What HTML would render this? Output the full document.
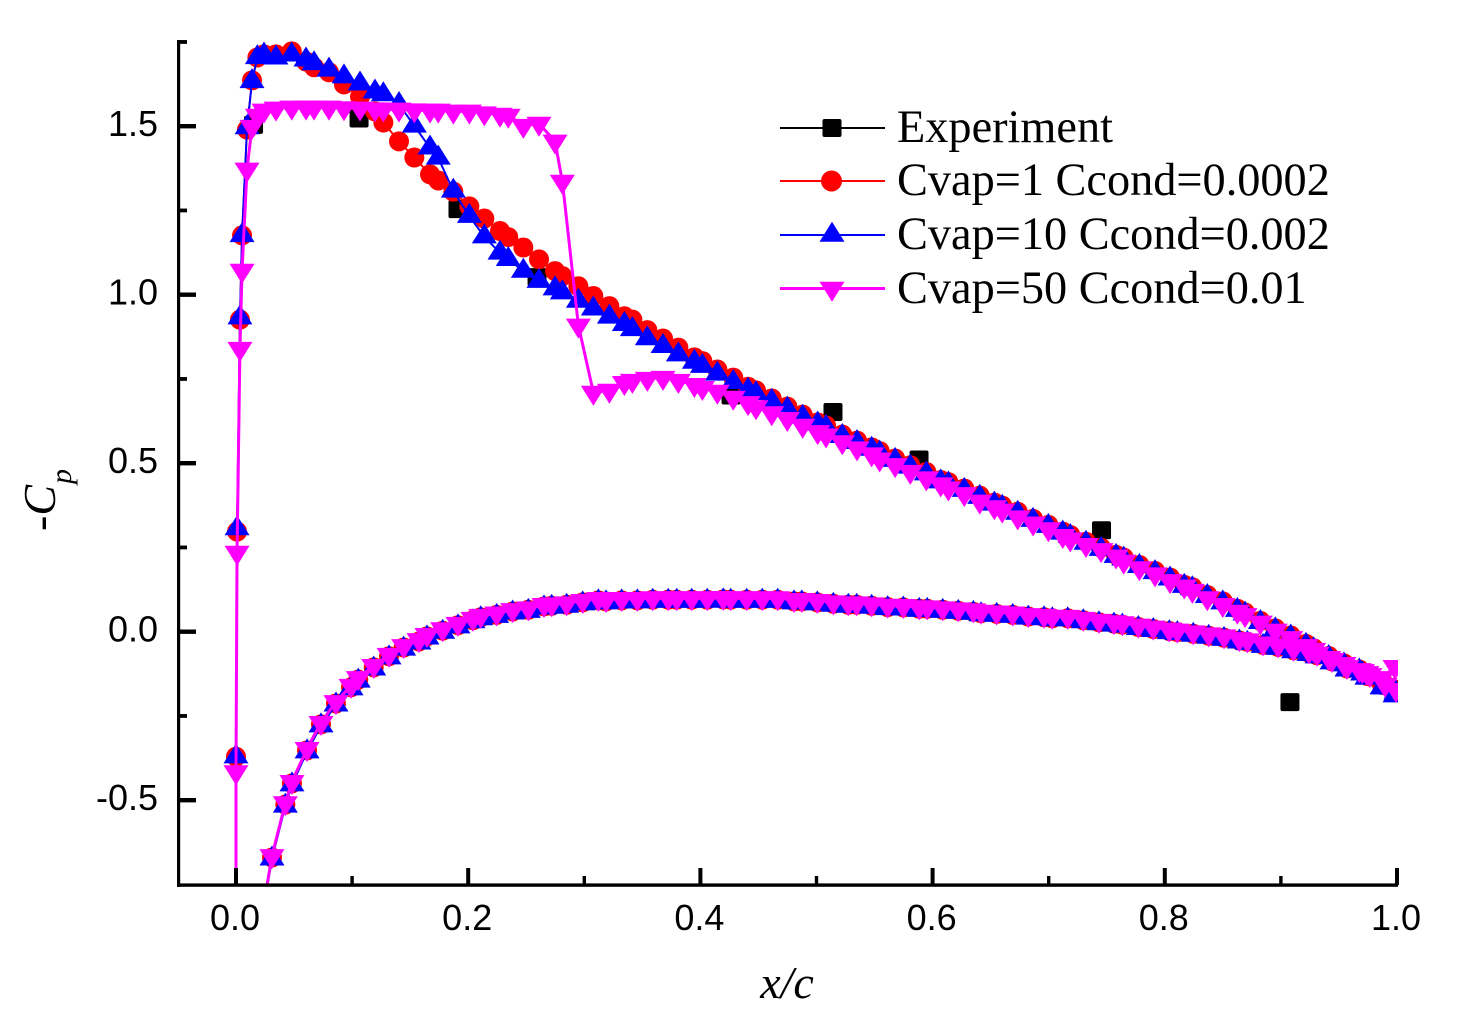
<!DOCTYPE html>
<html lang="en">
<head>
<meta charset="utf-8">
<title>Pressure coefficient along chord</title>
<style>
html,body{margin:0;padding:0;background:#fff;width:1460px;height:1036px;overflow:hidden}
svg{display:block}
.tick{font-family:"Liberation Sans",Arial,sans-serif;font-size:36px;fill:#000}
.leg{font-family:"Liberation Serif","Times New Roman",serif;font-size:46.3px;fill:#000}
.ax{font-family:"Liberation Serif","Times New Roman",serif;font-size:46px;font-style:italic;fill:#000}
</style>
</head>
<body>
<svg id="chart" xmlns="http://www.w3.org/2000/svg" width="1460" height="1036" viewBox="0 0 1460 1036">
  <defs><clipPath id="plotClip"><rect x="176" y="38" width="1222" height="848"></rect></clipPath></defs>
  <rect x="0" y="0" width="1460" height="1036" fill="#fff"></rect>
  <g id="series" clip-path="url(#plotClip)"></g>
  <g id="axes"></g>
  <text class="ax" x="787" y="998" text-anchor="middle">x/c</text>
  <text class="ax" transform="translate(55,531) rotate(-90)"><tspan font-style="normal">-</tspan>C<tspan font-size="30" dy="16" dx="1">p</tspan></text>
  <g id="legend">
    <g>
      <line x1="780" x2="885" y1="128" y2="128" stroke="#000" stroke-width="2"></line>
      <rect x="822.5" y="119" width="19" height="18" rx="2" fill="#000"></rect>
      <text class="leg" x="897" y="142">Experiment</text>
    </g>
    <g>
      <line x1="780" x2="885" y1="181" y2="181" stroke="#f00" stroke-width="2"></line>
      <circle cx="831.5" cy="181" r="10.5" fill="#f00"></circle>
      <text class="leg" x="897" y="195">Cvap=1 Ccond=0.0002</text>
    </g>
    <g>
      <line x1="780" x2="885" y1="235" y2="235" stroke="#00f" stroke-width="2"></line>
      <polygon points="832,221.7 844.5,241.7 819.5,241.7" fill="#00f"></polygon>
      <text class="leg" x="897" y="249">Cvap=10 Ccond=0.002</text>
    </g>
    <g>
      <line x1="780" x2="885" y1="288.5" y2="288.5" stroke="#f0f" stroke-width="3"></line>
      <polygon points="819.5,281.7 844.5,281.7 832,301.7" fill="#f0f"></polygon>
      <text class="leg" x="897" y="303">Cvap=50 Ccond=0.01</text>
    </g>
  </g>
</svg>
<script>
// Axis tick values
const xMajorTicks = [0.0, 0.2, 0.4, 0.6, 0.8, 1.0];
const xMinorTicks = [0.1, 0.3, 0.5, 0.7, 0.9];
const xTickLabels = ["0.0", "0.2", "0.4", "0.6", "0.8", "1.0"];
const yMajorTicks = [-0.5, 0.0, 0.5, 1.0, 1.5];
const yMinorTicks = [-0.25, 0.25, 0.75, 1.25, 1.75];
const yTickLabels = ["-0.5", "0.0", "0.5", "1.0", "1.5"];

// Experiment
const expX = [0.0151, 0.1060, 0.1912, 0.2593, 0.4264, 0.5142, 0.5883, 0.7455, 0.9078];
const expCp = [1.504, 1.523, 1.254, 1.052, 0.701, 0.652, 0.511, 0.301, -0.209];

// Suction-side chord positions
const xUpper = [
0.0000,
0.0000,0.0009,0.0034,0.0052,0.0095,0.0138,0.0184,0.0241,0.0344,0.0480,
0.0603,0.0672,0.0801,0.0930,0.1068,0.1197,0.1269,0.1404,0.1536,0.1671,
0.1742,0.1872,0.2010,0.2139,0.2274,0.2345,0.2475,0.2610,0.2748,0.2811,
0.2949,0.3078,0.3216,0.3345,0.3414,0.3543,0.3678,0.3810,0.3948,0.4017,
0.4146,0.4283,0.4410,0.4479,0.4614,0.4749,0.4881,0.5010,0.5082,0.5222,
0.5349,0.5475,0.5544,0.5677,0.5808,0.5946,0.6070,0.6136,0.6273,0.6406,
0.6532,0.6600,0.6733,0.6865,0.6997,0.7121,0.7186,0.7321,0.7451,0.7580,
0.7646,0.7781,0.7916,0.8045,0.8168,0.8237,0.8366,0.8499,0.8625,0.8691,
0.8823,0.8952,0.9084,0.9216,0.9282,0.9412,0.9543,0.9675,0.9741,0.9871,
0.9983];

// Pressure-side chord positions
const xLower = [
0.0224,0.0310,0.0425,0.0482,0.0612,0.0732,0.0861,0.0991,0.1053,0.1186,
0.1318,0.1444,0.1576,0.1645,0.1780,0.1912,0.2041,0.2108,0.2245,0.2383,
0.2518,0.2653,0.2719,0.2848,0.2986,0.3121,0.3187,0.3322,0.3457,0.3589,
0.3723,0.3796,0.3925,0.4059,0.4197,0.4261,0.4399,0.4533,0.4666,0.4806,
0.4873,0.5007,0.5145,0.5274,0.5346,0.5475,0.5613,0.5748,0.5885,0.5954,
0.6087,0.6221,0.6351,0.6417,0.6552,0.6690,0.6824,0.6960,0.7031,0.7164,
0.7298,0.7433,0.7562,0.7634,0.7772,0.7901,0.8039,0.8108,0.8245,0.8378,
0.8510,0.8642,0.8711,0.8846,0.8975,0.9109,0.9242,0.9311,0.9440,0.9569,
0.9703,0.9767,0.9897,0.9991];

// Cvap=1 Ccond=0.0002
const redUpper = [
-1.200,
-0.371,0.297,0.926,1.176,1.490,1.636,1.704,1.713,1.713,1.722,
1.692,1.675,1.660,1.624,1.588,1.544,1.511,1.455,1.407,1.357,
1.339,1.306,1.262,1.226,1.189,1.171,1.140,1.105,1.070,1.055,
1.025,0.996,0.966,0.936,0.926,0.895,0.870,0.843,0.814,0.803,
0.778,0.754,0.727,0.716,0.692,0.668,0.644,0.621,0.612,0.585,
0.567,0.547,0.536,0.514,0.494,0.474,0.450,0.444,0.425,0.404,
0.383,0.374,0.356,0.335,0.317,0.297,0.287,0.267,0.249,0.228,
0.220,0.198,0.180,0.161,0.139,0.132,0.109,0.090,0.068,0.057,
0.032,0.010,-0.011,-0.036,-0.049,-0.072,-0.094,-0.112,-0.131,-0.158,
-0.178];
const redLower = [
-0.845,-0.670,-0.513,-0.450,-0.352,-0.275,-0.213,-0.165,-0.142,-0.106,
-0.073,-0.047,-0.029,-0.014,0.003,0.019,0.034,0.043,0.050,0.060,
0.065,0.075,0.077,0.080,0.087,0.093,0.090,0.093,0.093,0.095,
0.095,0.095,0.095,0.095,0.096,0.095,0.095,0.095,0.095,0.090,
0.090,0.087,0.083,0.080,0.080,0.077,0.073,0.072,0.068,0.068,
0.065,0.062,0.059,0.055,0.053,0.050,0.045,0.043,0.040,0.040,
0.034,0.028,0.024,0.021,0.014,0.008,0.002,-0.001,-0.006,-0.012,
-0.018,-0.026,-0.030,-0.039,-0.045,-0.055,-0.063,-0.070,-0.088,-0.109,
-0.121,-0.133,-0.158,-0.172];

// Cvap=10 Ccond=0.002
const blueUpper = [
-1.200,
-0.371,0.306,0.932,1.176,1.496,1.633,1.704,1.712,1.703,1.712,
1.697,1.686,1.667,1.647,1.626,1.602,1.594,1.565,1.501,1.436,
1.406,1.308,1.233,1.172,1.124,1.105,1.070,1.040,1.018,1.006,
0.981,0.958,0.934,0.912,0.897,0.870,0.847,0.822,0.800,0.788,
0.765,0.740,0.717,0.707,0.684,0.661,0.637,0.617,0.607,0.580,
0.562,0.542,0.531,0.509,0.489,0.469,0.445,0.439,0.420,0.399,
0.379,0.370,0.352,0.331,0.313,0.293,0.283,0.263,0.245,0.224,
0.216,0.194,0.176,0.157,0.135,0.128,0.105,0.086,0.064,0.053,
0.028,0.006,-0.015,-0.040,-0.053,-0.076,-0.098,-0.116,-0.137,-0.166,
-0.190];
const blueLower = [
-0.849,-0.674,-0.517,-0.454,-0.356,-0.279,-0.217,-0.169,-0.146,-0.110,
-0.077,-0.051,-0.033,-0.018,-0.001,0.015,0.030,0.039,0.046,0.056,
0.061,0.071,0.073,0.076,0.083,0.089,0.086,0.089,0.089,0.091,
0.091,0.091,0.091,0.091,0.092,0.091,0.091,0.091,0.091,0.086,
0.086,0.083,0.079,0.076,0.076,0.073,0.069,0.068,0.064,0.064,
0.061,0.058,0.055,0.051,0.049,0.046,0.041,0.039,0.036,0.036,
0.030,0.024,0.020,0.017,0.010,0.004,-0.002,-0.005,-0.010,-0.016,
-0.022,-0.030,-0.034,-0.043,-0.049,-0.059,-0.067,-0.074,-0.092,-0.113,
-0.125,-0.137,-0.166,-0.181];

// Cvap=50 Ccond=0.01
const magentaUpper = [
-1.200,
-0.416,0.235,0.840,1.072,1.372,1.499,1.532,1.547,1.553,1.556,
1.556,1.556,1.556,1.554,1.553,1.551,1.550,1.550,1.548,1.547,
1.547,1.544,1.544,1.539,1.535,1.532,1.502,1.508,1.455,1.336,
0.909,0.710,0.716,0.739,0.745,0.751,0.754,0.745,0.733,0.724,
0.713,0.695,0.679,0.667,0.649,0.632,0.612,0.593,0.583,0.563,
0.545,0.527,0.512,0.495,0.475,0.456,0.438,0.426,0.409,0.387,
0.370,0.360,0.340,0.322,0.305,0.285,0.275,0.258,0.243,0.224,
0.209,0.189,0.171,0.151,0.135,0.122,0.100,0.080,0.060,0.050,
0.028,0.004,-0.018,-0.042,-0.053,-0.077,-0.095,-0.113,-0.122,-0.137,
-0.104];
const magentaLower = [
-0.840,-0.665,-0.508,-0.445,-0.347,-0.270,-0.208,-0.160,-0.137,-0.101,
-0.068,-0.042,-0.024,-0.009,0.008,0.024,0.039,0.048,0.055,0.065,
0.070,0.080,0.082,0.085,0.092,0.098,0.095,0.098,0.098,0.100,
0.100,0.100,0.100,0.100,0.101,0.100,0.100,0.100,0.100,0.095,
0.095,0.092,0.088,0.085,0.085,0.082,0.078,0.077,0.073,0.073,
0.070,0.067,0.064,0.060,0.058,0.055,0.050,0.048,0.045,0.045,
0.039,0.033,0.029,0.026,0.019,0.013,0.007,0.004,-0.001,-0.007,
-0.013,-0.021,-0.025,-0.034,-0.040,-0.050,-0.058,-0.065,-0.083,-0.104,
-0.116,-0.128,-0.157,-0.172];

const NS = 'http://www.w3.org/2000/svg';
const sx = function (v) { return 236 + v * 1161; };
const sy = function (v) { return 631.7 - v * 337; };

function mk(tag, parent, attrs) {
  const el = document.createElementNS(NS, tag);
  for (const k in attrs) { el.setAttribute(k, attrs[k]); }
  parent.appendChild(el);
  return el;
}

const axes = document.getElementById('axes');
const series = document.getElementById('series');

// spines
const leftSpine = mk('rect', axes, {x: 177, y: 40, width: 3.2, height: 847, fill: '#000'});


const bottomSpine = mk('rect', axes, {x: 177, y: 883.4, width: 1221, height: 3.4, fill: '#000'});



// x ticks
xMajorTicks.forEach(function (v, i) {
  const t = mk('rect', axes, {x: sx(v) - 2, y: 868, width: 4, height: 17, fill: '#000'});
  
  
  const l = mk('text', axes, {x: sx(v) - 1, y: 930, 'text-anchor': 'middle', 'class': 'tick'});
  
  
  l.textContent = xTickLabels[i];
});
xMinorTicks.forEach(function (v) {
  const t = mk('rect', axes, {x: sx(v) - 1.7, y: 876, width: 3.4, height: 9, fill: '#000'});
  
  
});

// y ticks
yMajorTicks.forEach(function (v, i) {
  const t = mk('rect', axes, {x: 180, y: sy(v) - 2.2, width: 16, height: 4.4, fill: '#000'});
  
  
  const l = mk('text', axes, {x: 158, y: sy(v) + 10, 'text-anchor': 'end', 'class': 'tick'});
  
  
  l.textContent = yTickLabels[i];
});
yMinorTicks.forEach(function (v) {
  const t = mk('rect', axes, {x: 180, y: sy(v) - 1.9, width: 7, height: 3.8, fill: '#000'});
  
  
});

// markers
function drawSquare(g, x, y, color) {
  return mk('rect', g, {x: x - 9.5, y: y - 9, width: 19, height: 18, rx: 2, fill: color});
}
function drawCircle(g, x, y, color) {
  return mk('circle', g, {cx: x, cy: y, r: 10, fill: color});
}
function drawUp(g, x, y, color) {
  return mk('polygon', g, {points: x + ',' + (y - 13.3) + ' ' + (x + 12.5) + ',' + (y + 6.7) + ' ' + (x - 12.5) + ',' + (y + 6.7), fill: color});
}
function drawDown(g, x, y, color) {
  return mk('polygon', g, {points: (x - 12.5) + ',' + (y - 6.7) + ' ' + (x + 12.5) + ',' + (y - 6.7) + ' ' + x + ',' + (y + 13.3), fill: color});
}

function drawCurve(g, xs, ys, color, width) {
  const pts = xs.map(function (v, i) { return sx(v).toFixed(2) + ',' + sy(ys[i]).toFixed(2); }).join(' ');
  return mk('polyline', g, {points: pts, fill: 'none', stroke: color, 'stroke-width': width, 'stroke-linejoin': 'round'});
}

// experiment markers
const expGroup = mk('g', series, {});


expX.forEach(function (v, i) {
  const m = drawSquare(expGroup, sx(v), sy(expCp[i]), '#000');
  
  
});

// red series
const redGroup = mk('g', series, {});


const redLineU = drawCurve(redGroup, xUpper, redUpper, '#f00', 2);


const redLineL = drawCurve(redGroup, xLower, redLower, '#f00', 2);


xLower.forEach(function (v, i) {
  const m = drawCircle(redGroup, sx(v), sy(redLower[i]), '#f00');
  
  
});
xUpper.forEach(function (v, i) {
  const m = drawCircle(redGroup, sx(v), sy(redUpper[i]), '#f00');
  
  
});

// blue series
const blueGroup = mk('g', series, {});


const blueLineU = drawCurve(blueGroup, xUpper, blueUpper, '#00f', 2);


const blueLineL = drawCurve(blueGroup, xLower, blueLower, '#00f', 2);


xLower.forEach(function (v, i) {
  const m = drawUp(blueGroup, sx(v), sy(blueLower[i]), '#00f');
  
  
});
xUpper.forEach(function (v, i) {
  const m = drawUp(blueGroup, sx(v), sy(blueUpper[i]), '#00f');
  
  
});

// magenta series
const magGroup = mk('g', series, {});


const magLineU = drawCurve(magGroup, xUpper, magentaUpper, '#f0f', 3);


const magLineL = drawCurve(magGroup, xLower, magentaLower, '#f0f', 3);


xLower.forEach(function (v, i) {
  const m = drawDown(magGroup, sx(v), sy(magentaLower[i]), '#f0f');
  
  
});
xUpper.forEach(function (v, i) {
  const m = drawDown(magGroup, sx(v), sy(magentaUpper[i]), '#f0f');
  
  
});
</script>
</body>
</html>
